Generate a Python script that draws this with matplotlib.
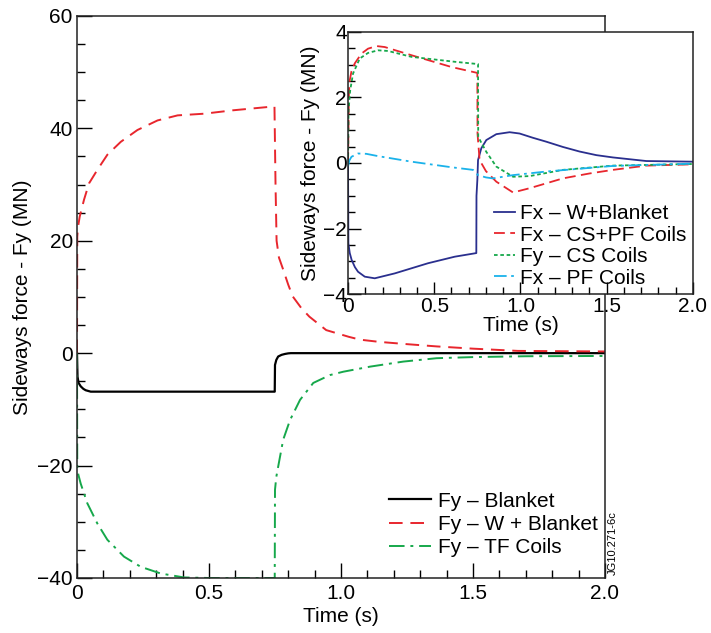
"""
Sideways force on vessel components during a disruption (Fy main plot, Fx/Fy inset).
"""
import matplotlib
matplotlib.use("Agg")
import matplotlib.pyplot as plt
from matplotlib.ticker import MultipleLocator

plt.rcParams['font.family'] = ['Liberation Sans', 'DejaVu Sans']

# --- Main plot data (time in s, force in MN) ---
t_blanket = [0.0, 0.002, 0.006, 0.014, 0.024, 0.033, 0.052, 0.3, 0.6, 0.749, 0.750,
             0.755, 0.762, 0.775, 0.788, 0.8, 0.81, 1.0, 1.5, 2.0]
fy_blanket = [0.0, -4.2, -5.3, -5.9, -6.35, -6.6, -6.85, -6.85, -6.85, -6.85, -2.1,
              -1.2, -0.6, -0.3, -0.14, -0.04, 0.0, 0.0, 0.0, 0.0]

t_wblanket = [0.0, 0.001, 0.004, 0.0103, 0.0266, 0.0455, 0.077, 0.115, 0.166, 0.229,
              0.305, 0.381, 0.482, 0.59, 0.748, 0.752, 0.756, 0.765, 0.78, 0.8, 0.817,
              0.85, 0.88, 0.944, 1.03, 1.072, 1.146, 1.25, 1.362, 1.5, 1.67, 2.0]
fy_wblanket = [0.0, 20.7, 22.5, 24.3, 27.3, 30.2, 32.6, 35.3, 37.6, 39.7,
               41.4, 42.3, 42.6, 43.2, 43.9, 30.0, 20.0, 17.0, 15.0, 12.2, 10.1,
               8.0, 6.5, 4.1, 2.9, 2.4, 2.0, 1.6, 1.2, 0.8, 0.4, 0.3]

t_tf = [0.0, 0.001, 0.005, 0.014, 0.039, 0.077, 0.115, 0.178, 0.241, 0.317, 0.405, 0.5,
        0.6, 0.749, 0.750, 0.755, 0.762, 0.781, 0.807, 0.845, 0.895, 0.958, 1.009,
        1.11, 1.236, 1.362, 1.5, 1.7, 2.0]
fy_tf = [0.0, -20.2, -21.6, -23.2, -26.7, -30.3, -33.2, -36.2, -38.0, -39.2, -39.9, -40.0,
         -40.0, -40.0, -24.3, -22.0, -20.2, -15.4, -11.9, -8.3, -5.3, -3.9, -3.3,
         -2.4, -1.5, -0.9, -0.7, -0.55, -0.5]

# --- Inset data ---
t_in_blue = [0.0, 0.002, 0.01, 0.021, 0.04, 0.058, 0.097, 0.155, 0.271, 0.464, 0.619,
             0.744, 0.745, 0.75, 0.754, 0.773, 0.802, 0.86, 0.937, 0.995, 1.072, 1.15,
             1.246, 1.343, 1.44, 1.536, 1.73, 2.0]
fx_in_blue = [0.0, -2.45, -2.75, -2.96, -3.18, -3.32, -3.47, -3.52, -3.37, -3.06, -2.86,
              -2.75, -1.0, -0.52, 0.09, 0.45, 0.70, 0.88, 0.94, 0.90, 0.77, 0.65,
              0.49, 0.35, 0.24, 0.17, 0.06, 0.04]

t_in_red = [0.0, 0.005, 0.01, 0.02, 0.039, 0.078, 0.116, 0.165, 0.213, 0.368, 0.6, 0.75,
            0.751, 0.763, 0.8, 0.86, 0.957, 1.053, 1.15, 1.246, 1.4, 1.536, 1.73, 2.0]
fx_in_red = [0.0, 2.1, 2.53, 2.8, 3.04, 3.34, 3.49, 3.57, 3.54, 3.29, 2.93, 2.75,
             0.9, 0.09, -0.25, -0.57, -0.90, -0.77, -0.62, -0.47, -0.32, -0.21, -0.08, -0.04]

t_in_green = [0.0, 0.003, 0.012, 0.029, 0.068, 0.116, 0.174, 0.232, 0.368, 0.619, 0.754,
              0.755, 0.78, 0.802, 0.86, 0.957, 1.053, 1.246, 1.536, 2.0]
fy_in_green = [0.0, 1.6, 2.2, 2.73, 3.19, 3.36, 3.44, 3.42, 3.24, 3.09, 3.02,
               0.8, 0.55, 0.34, -0.11, -0.42, -0.40, -0.21, -0.08, -0.03]

t_in_cyan = [0.0, 0.008, 0.02, 0.058, 0.106, 0.174, 0.368, 0.6, 0.725, 0.754, 0.8, 0.84,
             0.957, 1.15, 1.536, 2.0]
fx_in_cyan = [-0.1, 0.08, 0.19, 0.29, 0.28, 0.21, 0.04, -0.13, -0.21, -0.37, -0.44, -0.47,
              -0.37, -0.26, -0.09, -0.02]

RED = "#e8262d"
GREEN = "#16a84b"
BLUE = "#2a2f8e"
CYAN = "#1ab2ea"


def minus_fmt(v, p):
    return f'{v:.0f}'.replace('-', '\u2212')


def style_axes(ax, ymaj, ymin, size):
    ax.xaxis.set_major_locator(MultipleLocator(0.5))
    ax.xaxis.set_minor_locator(MultipleLocator(0.1))
    ax.yaxis.set_major_locator(MultipleLocator(ymaj))
    ax.yaxis.set_minor_locator(MultipleLocator(ymin))
    ax.tick_params(which='both', direction='in', top=False, right=False, labelsize=size)
    for sp in ax.spines.values():
        sp.set_linewidth(1.1)
        sp.set_color('#222222')
    ax.xaxis.set_major_formatter(plt.FuncFormatter(lambda v, p: '0' if v == 0 else f'{v:.1f}'))
    ax.yaxis.set_major_formatter(plt.FuncFormatter(minus_fmt))


fig = plt.figure(figsize=(7.11, 6.33), dpi=100)

# --- Main axes ---
ax = fig.add_axes([0.1083, 0.0869, 0.7426, 0.888])
ax.plot(t_blanket, fy_blanket, color='black', lw=1.6, label='Fy – Blanket')
ax.plot(t_wblanket, fy_wblanket, color=RED, lw=1.4, dashes=(7, 4), label='Fy – W + Blanket')
ax.plot(t_tf, fy_tf, color=GREEN, lw=1.4, dashes=(8, 3, 1.5, 3), label='Fy – TF Coils')
ax.set_xlim(0, 2.0)
ax.set_ylim(-40, 60)
style_axes(ax, 20, 5, 15)
ax.tick_params(which='major', length=11, width=1.0)
ax.tick_params(which='minor', length=6, width=1.0)
ax.tick_params(axis='y', pad=3)
ax.tick_params(axis='x', pad=4)
ax.set_xlabel('Time (s)', fontsize=15, labelpad=3)
ax.set_ylabel('Sideways force - Fy (MN)', fontsize=15, labelpad=4)
ax.legend(loc='lower right', bbox_to_anchor=(1.022, 0.004), frameon=False, fontsize=15,
          handlelength=2.0, handletextpad=0.35, labelspacing=0.2)
fig.text(0.862, 0.092, 'JG10.271-6c', rotation=90, fontsize=8, ha='center', va='bottom')

# --- Inset axes ---
ins = fig.add_axes([0.4895, 0.5355, 0.485, 0.414])
ins.plot(t_in_blue, fx_in_blue, color=BLUE, lw=1.3, label='Fx – W+Blanket')
ins.plot(t_in_red, fx_in_red, color=RED, lw=1.3, dashes=(6, 3), label='Fx – CS+PF Coils')
ins.plot(t_in_green, fy_in_green, color=GREEN, lw=1.3, dashes=(2, 1.5), label='Fy – CS Coils')
ins.plot(t_in_cyan, fx_in_cyan, color=CYAN, lw=1.3, dashes=(7, 2.5, 1.5, 2.5), label='Fx – PF Coils')
ins.set_xlim(0, 2.0)
ins.set_ylim(-4, 4)
style_axes(ins, 2, 0.5, 15)
ins.tick_params(which='major', length=9, width=1.0)
ins.tick_params(which='minor', length=5, width=1.0)
ins.tick_params(axis='y', pad=1)
ins.tick_params(axis='x', pad=2)
ins.set_xlabel('Time (s)', fontsize=15, labelpad=0)
ins.set_ylabel('Sideways force - Fy (MN)', fontsize=15, labelpad=2)
ins.legend(loc='lower right', bbox_to_anchor=(1.0, 0.0), frameon=False, fontsize=15,
           handlelength=1.0, handletextpad=0.25, labelspacing=0.12, borderaxespad=0.1,
           borderpad=0.2)

fig.savefig('out.png', dpi=100)
